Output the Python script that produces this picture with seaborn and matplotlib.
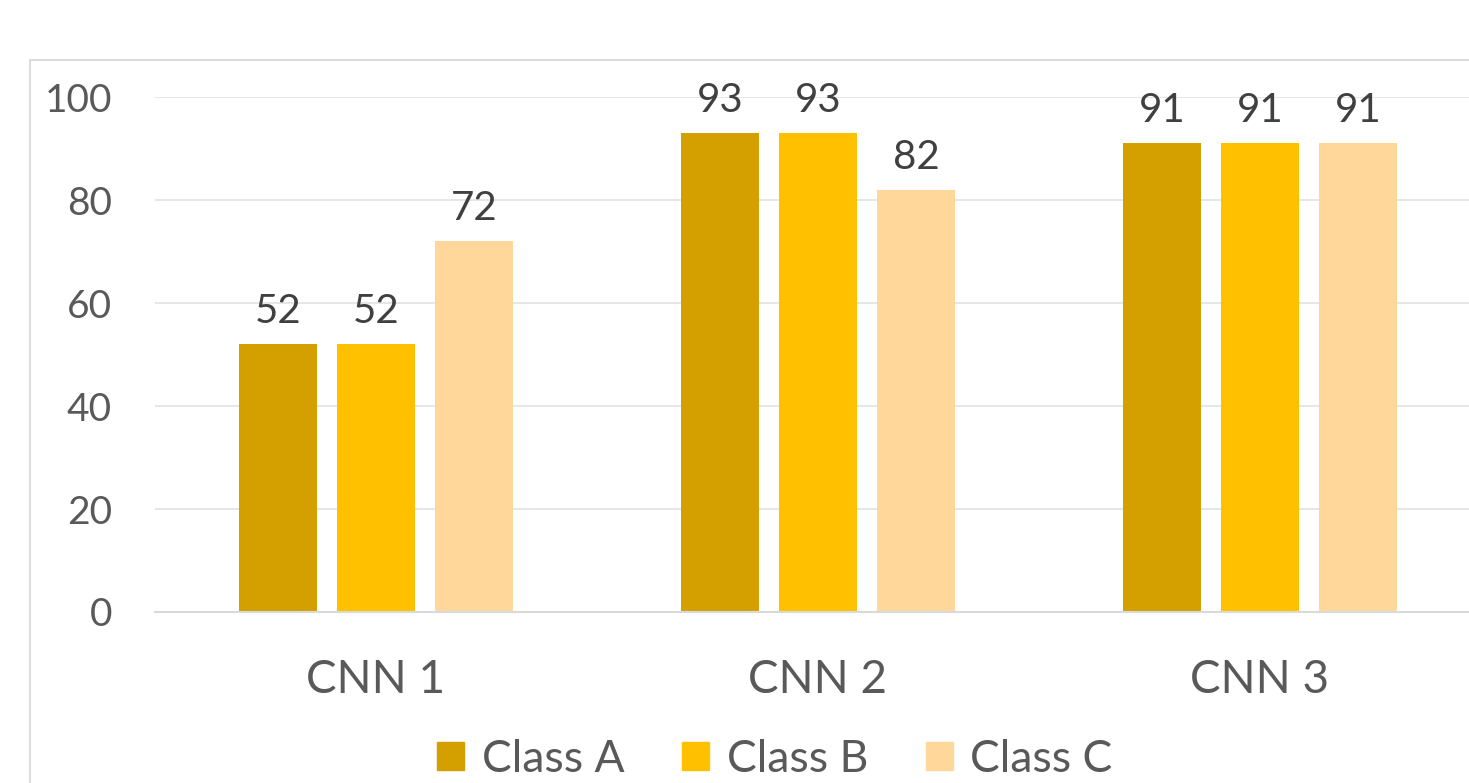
import pandas as pd
import matplotlib.pyplot as plt
import seaborn as sns
from matplotlib.patches import Rectangle

models = ["CNN 1", "CNN 2", "CNN 3"]
classes = ["Class A", "Class B", "Class C"]
class_a = [52, 93, 91]
class_b = [52, 93, 91]
class_c = [72, 82, 91]
palette = ["#D4A000", "#FFC000", "#FFD79B"]

df = pd.DataFrame({"Model": models, "Class A": class_a,
                   "Class B": class_b, "Class C": class_c})
long = df.melt(id_vars="Model", var_name="Class", value_name="Score")

sns.set_theme(style="white")
plt.rcParams["font.family"] = ["Lato", "DejaVu Sans"]
text_col = "#595959"

W, H = 1469, 783
fig = plt.figure(figsize=(W / 100, H / 100), dpi=100)
ax = fig.add_axes([155 / W, 171 / H, (1481 - 155) / W, (612 - 97) / H])

sns.barplot(data=long, x="Model", y="Score", hue="Class", hue_order=classes,
            palette=palette, width=0.665, gap=0.21, saturation=1,
            edgecolor="none", ax=ax)

for cont in ax.containers:
    ax.bar_label(cont, padding=10, fontsize=29, color="#404040")

ax.set_ylim(0, 100)
ax.set_xlim(-0.5, 2.5)
ax.set_yticks(range(0, 101, 20))
ax.yaxis.grid(True, color="#E4E4E4", linewidth=1.3)
ax.set_axisbelow(True)
for s in ["left", "right", "top"]:
    ax.spines[s].set_visible(False)
ax.spines["bottom"].set_color("#D9D9D9")
ax.spines["bottom"].set_linewidth(1.5)
ax.tick_params(axis="y", length=0, pad=31, labelsize=28, labelcolor=text_col)
ax.tick_params(axis="x", length=0, pad=34, labelsize=33, labelcolor=text_col)
ax.set_xlabel("")
ax.set_ylabel("")

ax.legend_.remove()
handles = [Rectangle((0, 0), 1, 1, color=c) for c in palette]
fig.legend(handles, classes, loc="center", bbox_to_anchor=(775 / W, 24 / H),
           ncol=3, frameon=False, fontsize=32, labelcolor=text_col,
           handlelength=0.6, handleheight=0.6, handletextpad=0.4,
           columnspacing=1.3, borderpad=0)

# chart area border (cropped on the right and bottom)
fig.patches.append(Rectangle((30 / W, -0.1), 1.2, (H - 60) / H + 0.1,
                             transform=fig.transFigure, fill=False,
                             edgecolor="#D9D9D9", linewidth=1.3))

fig.savefig("out.png", dpi=100)
